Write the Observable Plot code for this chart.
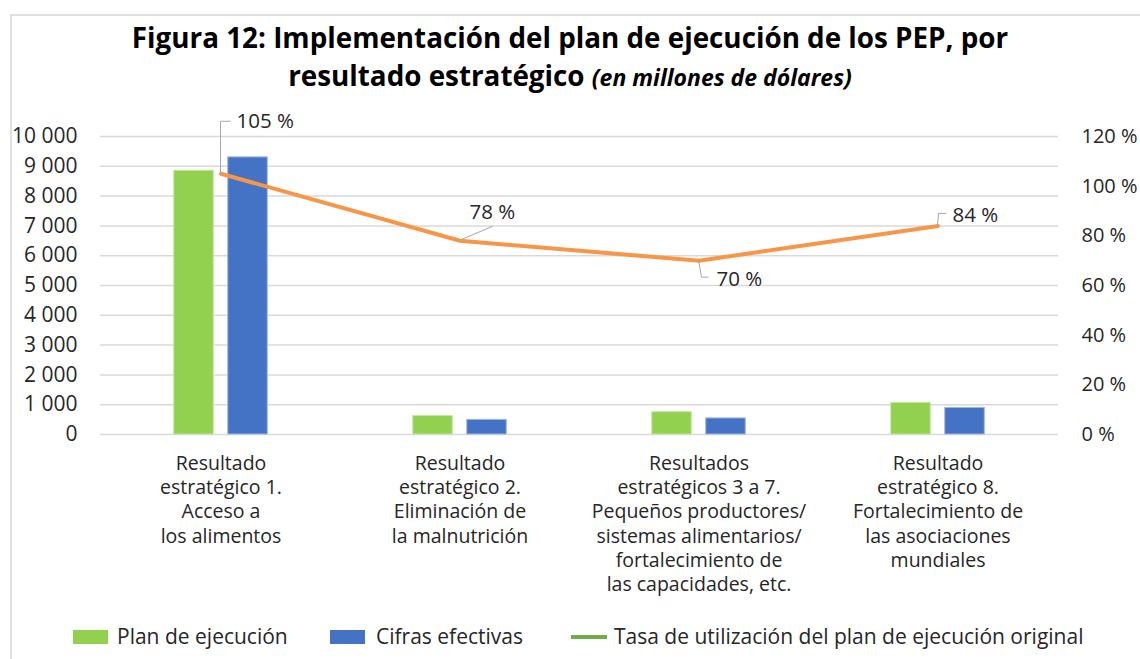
<!DOCTYPE html>
<html><head><meta charset="utf-8">
<script src="https://cdn.jsdelivr.net/npm/d3@7"></script>
<script src="https://cdn.jsdelivr.net/npm/@observablehq/plot@0.6"></script>
<style>
body{margin:0;background:#fff;font-family:"Open Sans",sans-serif;color:#262626}
#wrap{position:relative;width:1140px;height:659px;overflow:hidden;background:#fff}
#frame{position:absolute;left:10px;top:14px;width:1200px;height:700px;border:2px solid #e0e0e0;box-sizing:border-box}
#title{position:absolute;left:0;width:1140px;top:18px;text-align:center;font-weight:700;font-size:27.8px;line-height:38px;color:#000}
#title i{font-size:23px}
#chart{position:absolute;left:0;top:100px}
.lg{position:absolute;top:623px;font-size:21px;line-height:26px;color:#262626;white-space:nowrap}
.sw{position:absolute;top:630px;height:14px;width:35px}
.ln{position:absolute;top:635px;height:4px;width:36px}
</style></head>
<body>
<div id="wrap">
  <div id="frame"></div>
  <div id="title">Figura 12: Implementación del plan de ejecución de los PEP, por<br>resultado estratégico <i>(en millones de dólares)</i></div>
  <div id="chart"></div>
  <div id="legend"></div>
</div>
<script>
// ---- data ----
const categories = [
  "Resultado\nestratégico 1.\nAcceso a\nlos alimentos",
  "Resultado\nestratégico 2.\nEliminación de\nla malnutrición",
  "Resultados\nestratégicos 3 a 7.\nPequeños productores/\nsistemas alimentarios/\nfortalecimiento de\nlas capacidades, etc.",
  "Resultado\nestratégico 8.\nFortalecimiento de\nlas asociaciones\nmundiales"
];
const planValues = [8850, 620, 750, 1060];
const actualValues = [9300, 490, 540, 890];
const rateValues = [105, 78, 70, 84];
const rateLabels = ["105 %", "78 %", "70 %", "84 %"];
const leftTicks = [0, 1000, 2000, 3000, 4000, 5000, 6000, 7000, 8000, 9000, 10000];
const rightTicks = [0, 20, 40, 60, 80, 100, 120];
const seriesNames = ["Plan de ejecución", "Cifras efectivas", "Tasa de utilización del plan de ejecución original"];
const colors = {plan: "#92D050", actual: "#4472C4", rate: "#F79646", rateLegend: "#70AD47"};

// label leader styles (pixel offsets relative to the point)
const leaderStyles = [
  {path: [[0, 0], [0, -52], [10, -52]], tx: 16, ty: -52},
  {path: [[0, 0], [33, -14]], tx: 10, ty: -28},
  {path: [[0, 0], [3, 17], [10, 17]], tx: 18, ty: 19},
  {path: [[0, 0], [1, -12], [9, -12]], tx: 15, ty: -11}
];

const rows = categories.map((c, i) => ({cat: c, plan: planValues[i], actual: actualValues[i], rate: rateValues[i], label: rateLabels[i], i}));
const yMax = 10000, pMax = 120;
const k = yMax / pMax;
const fmt = d3.formatLocale({thousands: " ", grouping: [3], decimal: ","}).format(",");

const bw = (1140 - 100 - 82) / categories.length;
const barW = 40, gap = 14;
const inset = (bw - barW) / 2;
const off = (barW + gap) / 2;

function leaderMark(index, scales) {
  const g = d3.create("svg:g");
  const half = scales.x.bandwidth ? scales.x.bandwidth() / 2 : 0;
  rows.forEach((r, i) => {
    const px = scales.x(r.cat) + half;
    const py = scales.y(r.rate * k);
    const s = leaderStyles[i];
    g.append("path")
      .attr("d", "M" + s.path.map(([dx, dy]) => (px + dx) + "," + (py + dy)).join("L"))
      .attr("fill", "none").attr("stroke", "#a6a6a6").attr("stroke-width", 1);
    g.append("text")
      .attr("x", px + s.tx).attr("y", py + s.ty)
      .attr("dy", "0.35em")
      .attr("text-anchor", "start")
      .attr("font-size", 20.5).attr("fill", "#262626")
      .attr("font-family", "Open Sans")
      .text(r.label);
  });
  return g.node();
}

const chart = Plot.plot({
  width: 1140, height: 510,
  marginLeft: 100, marginRight: 82, marginTop: 36, marginBottom: 176,
  style: {fontFamily: "Open Sans", fontSize: "20px", color: "#262626", background: "transparent", overflow: "visible"},
  x: {type: "band", domain: categories, padding: 0, axis: null},
  y: {domain: [0, yMax], axis: null},
  marks: [
    Plot.ruleY(leftTicks, {stroke: "#d9d9d9", strokeWidth: 1.5}),
    Plot.barY(rows, {x: "cat", y: "plan", fill: colors.plan, stroke: "#c4e6a2", strokeWidth: 1, dx: -off, insetLeft: inset, insetRight: inset}),
    Plot.barY(rows, {x: "cat", y: "actual", fill: colors.actual, stroke: "#9fb6e0", strokeWidth: 1, dx: off, insetLeft: inset, insetRight: inset}),
    Plot.line(rows, {x: "cat", y: d => d.rate * k, stroke: colors.rate, strokeWidth: 4}),
    Plot.text(leftTicks, {y: d => d, frameAnchor: "left", textAnchor: "end", dx: -23, text: d => fmt(d), fontSize: 21, fill: "#262626"}),
    Plot.text(rightTicks, {y: d => d * k, frameAnchor: "right", textAnchor: "start", dx: 23, text: d => d + " %", fontSize: 20, fill: "#262626"}),
    Plot.text(categories, {x: d => d, frameAnchor: "bottom", lineAnchor: "top", dy: 18, text: d => d, fontSize: 19.5, lineHeight: 1.245, fill: "#262626"}),
    leaderMark
  ]
});
document.getElementById("chart").appendChild(chart);

// legend
const lg = document.getElementById("legend");
const items = [
  {type: "sw", color: colors.plan, left: 73, textLeft: 117},
  {type: "sw", color: colors.actual, left: 330, textLeft: 376},
  {type: "ln", color: colors.rateLegend, left: 571, textLeft: 614}
];
items.forEach((it, i) => {
  const s = document.createElement("div");
  s.className = it.type; s.style.left = it.left + "px"; s.style.background = it.color;
  lg.appendChild(s);
  const t = document.createElement("div");
  t.className = "lg"; t.style.left = it.textLeft + "px"; t.textContent = seriesNames[i];
  lg.appendChild(t);
});
</script>
</body></html>
